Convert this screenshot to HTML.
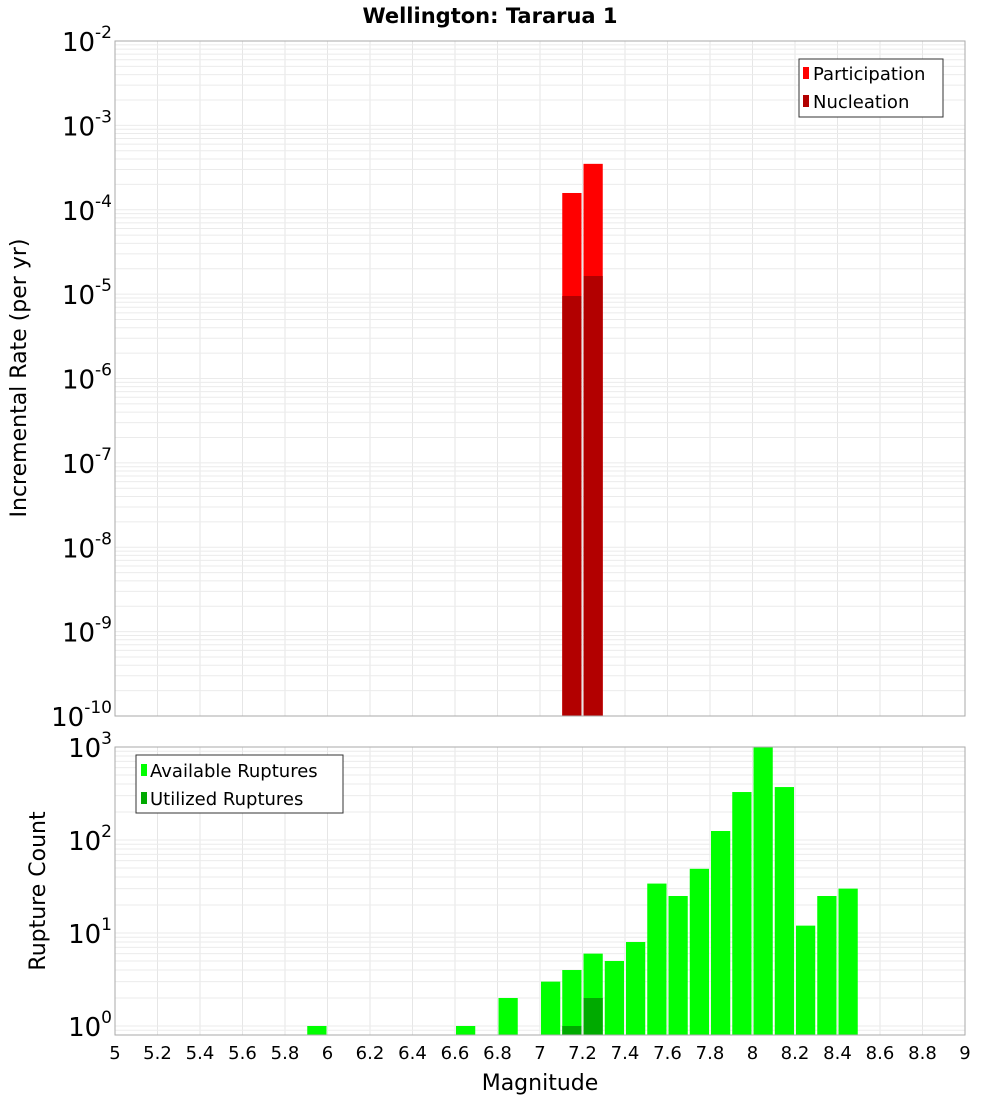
<!DOCTYPE html>
<html><head><meta charset="utf-8"><style>
body{margin:0;background:#fff;}
svg{display:block;font-family:"DejaVu Sans","Liberation Sans",sans-serif;}
</style></head><body>
<svg id="c" width="1000" height="1100">
<text x="490" y="23" font-size="21" font-weight="bold" text-anchor="middle">Wellington: Tararua 1</text>
<text transform="translate(26,378) rotate(-90)" font-size="22" text-anchor="middle">Incremental Rate (per yr)</text>
<text transform="translate(45,891) rotate(-90)" font-size="22" text-anchor="middle">Rupture Count</text>
<text x="540" y="1090" font-size="22" text-anchor="middle">Magnitude</text>
<g id="grid"></g><g id="bars"></g><g id="axes"></g>
<g>
<rect x="799" y="59" width="144" height="58" fill="#fff" stroke="#333"/>
<rect x="803" y="67" width="6" height="12" fill="#ff0000"/>
<text x="813" y="80" font-size="18">Participation</text>
<rect x="803" y="95" width="6" height="12" fill="#b20000"/>
<text x="813" y="108" font-size="18">Nucleation</text>
</g>
<g>
<rect x="136" y="755" width="207" height="58" fill="#fff" stroke="#333"/>
<rect x="141" y="764" width="6" height="12" fill="#00ff00"/>
<text x="150" y="777" font-size="18">Available Ruptures</text>
<rect x="141" y="792" width="6" height="12" fill="#00aa00"/>
<text x="150" y="805" font-size="18">Utilized Ruptures</text>
</g>
</svg>
<script>
const topMags=[7.15,7.25];
const participation=[1.58e-4,3.5e-4];
const nucleation=[9.5e-6,1.64e-5];
const botMags=[5.95,6.65,6.85,7.05,7.15,7.25,7.35,7.45,7.55,7.65,7.75,7.85,7.95,8.05,8.15,8.25,8.35,8.45];
const available=[1,1,2,3,4,6,5,8,34,25,49,125,328,1000,371,12,25,30];
const utilMags=[7.15,7.25];
const utilized=[1,2];
const xTicks=[5,5.2,5.4,5.6,5.8,6,6.2,6.4,6.6,6.8,7,7.2,7.4,7.6,7.8,8,8.2,8.4,8.6,8.8,9];
const topExps=[-2,-3,-4,-5,-6,-7,-8,-9,-10];
const botExps=[3,2,1,0];

const NS="http://www.w3.org/2000/svg";
const X0=115,X1=965;
const x=m=>X0+(m-5)/4*(X1-X0);
const TY0=41,TY1=716;
const yT=v=>TY0+(-2-Math.log10(v))/8*(TY1-TY0);
const BY0=747,BY1=1035,BD=93;
const yB=v=>BY0+(3-Math.log10(v))*BD;
function mk(tag,at,parent){const e=document.createElementNS(NS,tag);for(const k in at)e.setAttribute(k,at[k]);document.getElementById(parent).appendChild(e);return e;}
// grids
for(const t of xTicks){
 let l=mk('line',{x1:x(t),x2:x(t),y1:TY0,y2:TY1,stroke:'#e6e6e6'},'grid');
 
 
 let l2=mk('line',{x1:x(t),x2:x(t),y1:BY0,y2:BY1,stroke:'#e6e6e6'},'grid');
 
 
}
for(let e=-10;e<-2;e++)for(let k=1;k<10;k++){const y=yT(k*Math.pow(10,e));
 let l=mk('line',{x1:X0,x2:X1,y1:y,y2:y,stroke:'#ebebeb'},'grid');
 
 }
for(let e=-1;e<3;e++)for(let k=1;k<10;k++){const y=yB(k*Math.pow(10,e));if(y>BY1||y<BY0)continue;
 let l=mk('line',{x1:X0,x2:X1,y1:y,y2:y,stroke:'#ebebeb'},'grid');
 
 }
// bars
function bar(m,v,yf,base,color,name){const xl=x(m-0.05)+1,xr=x(m+0.05)-1,y=yf(v);
 const r=mk('rect',{x:xl,y:y,width:xr-xl,height:base-y,fill:color},'bars');
 
 }
topMags.forEach((m,i)=>bar(m,participation[i],yT,TY1,'#ff0000','participation-bar'));
topMags.forEach((m,i)=>bar(m,nucleation[i],yT,TY1,'#b20000','nucleation-bar'));
botMags.forEach((m,i)=>bar(m,available[i],yB,BY1,'#00ff00','available-bar'));
utilMags.forEach((m,i)=>bar(m,utilized[i],yB,BY1,'#00aa00','utilized-bar'));
// frames
let f1=mk('rect',{x:X0,y:TY0,width:X1-X0,height:TY1-TY0,fill:'none',stroke:'#aaa'},'axes');


let f2=mk('rect',{x:X0,y:BY0,width:X1-X0,height:BY1-BY0,fill:'none',stroke:'#aaa'},'axes');


// labels
function expLabel(y,e,name){const t=mk('text',{x:112,y:y+10,'font-size':26,'text-anchor':'end'},'axes');
 
 
 const s=String(e);
 t.innerHTML='10<tspan font-size="17" dy="-13">'+s+'</tspan>';}
topExps.forEach(e=>expLabel(yT(Math.pow(10,e)),e,'top-y-tick-label'));
botExps.forEach(e=>expLabel(yB(Math.pow(10,e)),e,'bottom-y-tick-label'));
xTicks.forEach(t=>{const el=mk('text',{x:x(t),y:1059,'font-size':18,'text-anchor':'middle'},'axes');
 
 
 el.textContent=String(t);});
</script>
</body></html>
